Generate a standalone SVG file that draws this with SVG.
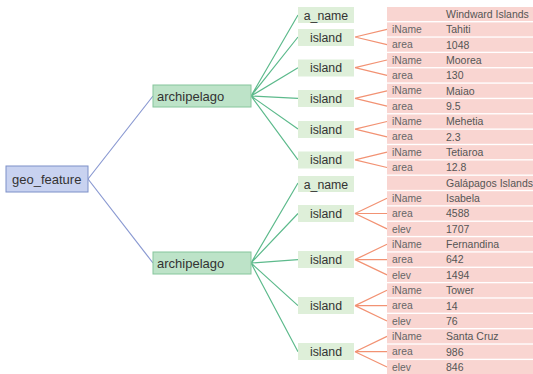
<svg xmlns="http://www.w3.org/2000/svg" width="533" height="374" viewBox="0 0 533 374">
<style>
text{font-family:"Liberation Sans",Arial,sans-serif;}
.root rect{fill:#c8d2f0;stroke:#7d90c8;stroke-width:1}
.arch rect{fill:#bde3c8;stroke:#86c69c;stroke-width:1}
.kid rect{fill:#deefd9}
.big{font-size:13px;fill:#333}
.mid{font-size:12.3px;fill:#333;text-anchor:middle}
.row rect{fill:#f9d5d1}
.k{font-size:10.3px;fill:#666}
.v{font-size:10.5px;fill:#555}
.cb{stroke:#8b9ad2;stroke-width:1.2;fill:none}
.cg{stroke:#5dba8c;stroke-width:1.2;fill:none}
.co{stroke:#f29273;stroke-width:1.2;fill:none}
</style>
<g id="connectors">
<path class="cb" d="M88,179 L153,96 M88,179 L153,263"/>
<path class="cg" d="M251,96 L298,15 M251,96 L298,37 M251,96 L298,67.7 M251,96 L298,98.4 M251,96 L298,129.1 M251,96 L298,159.8"/>
<path class="cg" d="M251,263 L298,183 M251,263 L298,213.5 M251,263 L298,259.6 M251,263 L298,305.6 M251,263 L298,351.7"/>
<path class="co" d="M355,37 L387,29.4 M355,37 L387,44.7 M355,67.7 L387,60 M355,67.7 L387,75.4 M355,98.4 L387,90.8 M355,98.4 L387,106.1 M355,129.1 L387,121.5 M355,129.1 L387,136.8 M355,159.8 L387,152.2 M355,159.8 L387,167.5"/>
<path class="co" d="M355,213.5 L387,198.2 M355,213.5 L387,213.5 M355,213.5 L387,228.9 M355,259.6 L387,244.3 M355,259.6 L387,259.6 M355,259.6 L387,274.9 M355,305.6 L387,290.3 M355,305.6 L387,305.6 M355,305.6 L387,321 M355,351.7 L387,336.4 M355,351.7 L387,351.7 M355,351.7 L387,367"/>
</g>
<g id="geo_feature" class="root"><rect x="6" y="166" width="82" height="26"/><text class="big" x="12" y="183.5">geo_feature</text></g>
<g id="archipelago1" class="arch"><rect x="153" y="85" width="98" height="22"/><text class="big" x="157" y="100.5">archipelago</text></g>
<g id="archipelago2" class="arch"><rect x="153" y="252" width="98" height="22"/><text class="big" x="157" y="267.5">archipelago</text></g>
<g id="a_name1" class="kid"><rect x="298" y="7" width="56" height="16"/><text class="mid" x="326" y="19.5">a_name</text></g>
<g id="island1" class="kid"><rect x="298" y="29" width="56" height="17"/><text class="mid" x="326" y="41.5">island</text></g>
<g id="island2" class="kid"><rect x="298" y="59.5" width="56" height="17"/><text class="mid" x="326" y="72">island</text></g>
<g id="island3" class="kid"><rect x="298" y="90" width="56" height="17"/><text class="mid" x="326" y="102.5">island</text></g>
<g id="island4" class="kid"><rect x="298" y="121" width="56" height="17"/><text class="mid" x="326" y="133.5">island</text></g>
<g id="island5" class="kid"><rect x="298" y="151.5" width="56" height="17"/><text class="mid" x="326" y="164">island</text></g>
<g id="a_name2" class="kid"><rect x="298" y="176" width="56" height="16"/><text class="mid" x="326" y="188.5">a_name</text></g>
<g id="island6" class="kid"><rect x="298" y="205" width="56" height="17"/><text class="mid" x="326" y="218">island</text></g>
<g id="island7" class="kid"><rect x="298" y="251" width="56" height="17"/><text class="mid" x="326" y="264">island</text></g>
<g id="island8" class="kid"><rect x="298" y="297" width="56" height="17"/><text class="mid" x="326" y="310">island</text></g>
<g id="island9" class="kid"><rect x="298" y="343" width="56" height="17"/><text class="mid" x="326" y="356">island</text></g>
<g id="rows" class="row">
<rect x="387" y="7" width="146" height="14"/><text class="v" x="446" y="17.8">Windward Islands</text>
<rect x="387" y="22.4" width="146" height="14"/><text class="k" x="392" y="33">iName</text><text class="v" x="446" y="33.2">Tahiti</text>
<rect x="387" y="37.7" width="146" height="14"/><text class="k" x="392" y="48.3">area</text><text class="v" x="446" y="48.5">1048</text>
<rect x="387" y="53.05" width="146" height="14"/><text class="k" x="392" y="63.7">iName</text><text class="v" x="446" y="63.9">Moorea</text>
<rect x="387" y="68.4" width="146" height="14"/><text class="k" x="392" y="79">area</text><text class="v" x="446" y="79.2">130</text>
<rect x="387" y="83.75" width="146" height="14"/><text class="k" x="392" y="94.4">iName</text><text class="v" x="446" y="94.6">Maiao</text>
<rect x="387" y="99.1" width="146" height="14"/><text class="k" x="392" y="109.7">area</text><text class="v" x="446" y="109.9">9.5</text>
<rect x="387" y="114.45" width="146" height="14"/><text class="k" x="392" y="125.1">iName</text><text class="v" x="446" y="125.3">Mehetia</text>
<rect x="387" y="129.8" width="146" height="14"/><text class="k" x="392" y="140.4">area</text><text class="v" x="446" y="140.6">2.3</text>
<rect x="387" y="145.15" width="146" height="14"/><text class="k" x="392" y="155.8">iName</text><text class="v" x="446" y="156">Tetiaroa</text>
<rect x="387" y="160.5" width="146" height="14"/><text class="k" x="392" y="171.1">area</text><text class="v" x="446" y="171.3">12.8</text>
<rect x="387" y="175.85" width="146" height="14"/><text class="v" x="446" y="186.7">Galápagos Islands</text>
<rect x="387" y="191.2" width="146" height="14"/><text class="k" x="392" y="201.8">iName</text><text class="v" x="446" y="202">Isabela</text>
<rect x="387" y="206.55" width="146" height="14"/><text class="k" x="392" y="217.2">area</text><text class="v" x="446" y="217.4">4588</text>
<rect x="387" y="221.9" width="146" height="14"/><text class="k" x="392" y="232.5">elev</text><text class="v" x="446" y="232.7">1707</text>
<rect x="387" y="237.25" width="146" height="14"/><text class="k" x="392" y="247.9">iName</text><text class="v" x="446" y="248.1">Fernandina</text>
<rect x="387" y="252.6" width="146" height="14"/><text class="k" x="392" y="263.2">area</text><text class="v" x="446" y="263.4">642</text>
<rect x="387" y="267.95" width="146" height="14"/><text class="k" x="392" y="278.6">elev</text><text class="v" x="446" y="278.8">1494</text>
<rect x="387" y="283.3" width="146" height="14"/><text class="k" x="392" y="293.9">iName</text><text class="v" x="446" y="294.1">Tower</text>
<rect x="387" y="298.65" width="146" height="14"/><text class="k" x="392" y="309.3">area</text><text class="v" x="446" y="309.5">14</text>
<rect x="387" y="314" width="146" height="14"/><text class="k" x="392" y="324.6">elev</text><text class="v" x="446" y="324.8">76</text>
<rect x="387" y="329.35" width="146" height="14"/><text class="k" x="392" y="340">iName</text><text class="v" x="446" y="340.2">Santa Cruz</text>
<rect x="387" y="344.7" width="146" height="14"/><text class="k" x="392" y="355.3">area</text><text class="v" x="446" y="355.5">986</text>
<rect x="387" y="360.05" width="146" height="14"/><text class="k" x="392" y="370.7">elev</text><text class="v" x="446" y="370.9">846</text>
</g>
</svg>
